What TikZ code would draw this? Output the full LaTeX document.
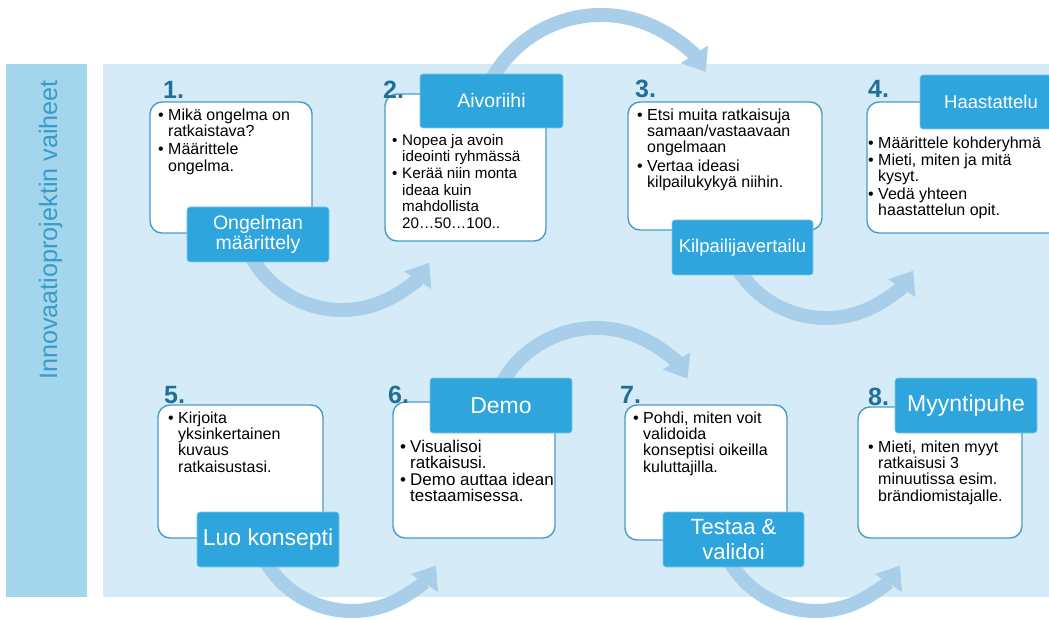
\documentclass[tikz,border=0pt]{standalone}
\usepackage{fontspec}
\setmainfont{Liberation Sans}
\usetikzlibrary{arrows.meta}
\definecolor{panel}{RGB}{213,236,248}
\definecolor{sidebar}{RGB}{163,214,237}
\definecolor{sidetext}{RGB}{58,154,201}
\definecolor{numc}{RGB}{34,110,152}
\definecolor{boxline}{RGB}{74,156,196}
\definecolor{labelc}{RGB}{46,165,220}
\definecolor{arrowc}{RGB}{168,206,234}
\newcommand{\bl}{\llap{\makebox[10pt][l]{\textbullet}}}
\newcommand{\fs}{\rule{0pt}{15pt}}
\begin{document}
\begin{tikzpicture}[x=1pt,y=-1pt,
  infobox/.style={draw=boxline, line width=1.4pt, fill=white, rounded corners=12pt, inner sep=0, outer sep=0},
  labelbox/.style={fill=labelc, draw=labelc!60!white, line width=0.6pt, rounded corners=3pt, inner sep=0, outer sep=0, text=white, align=center},
  numtxt/.style={anchor=base west, inner sep=0, text=numc, font={\fontsize{25}{25}\selectfont\bfseries}},
  bodytxt/.style={anchor=north west, inner sep=0, align=left, font={\fontsize{16}{16.3}\selectfont\lineskiplimit=-20pt}},
  flow/.style={draw=arrowc, line width=14pt, -{Triangle[width=31pt,length=21pt]}},
]
\useasboundingbox (0,0) rectangle (1049,620);
\fill[white] (0,0) rectangle (1049,620);
% backgrounds
\fill[sidebar] (6,64) rectangle (87,597);
\fill[panel] (103,64) rectangle (1049,597);
\node[anchor=base west, rotate=90, inner sep=0, text=sidetext, font={\fontsize{25.2}{25.2}\selectfont}] (side) at (57,380) {Innovaatioprojektin vaiheet};

% flow arrows
\coordinate (a1) at ([shift={(155:104)}]342,206);
\coordinate (a2) at ([shift={(205:125)}]601,140);
\coordinate (a3) at ([shift={(155:104)}]826,214);
\coordinate (a4) at ([shift={(155:100)}]352,511);
\coordinate (a5) at ([shift={(205:108)}]596,436);
\coordinate (a6) at ([shift={(155:100)}]816,511);
\draw[flow] (a1) arc[start angle=155, end angle=33, radius=104];
\draw[flow] (a2) arc[start angle=205, end angle=327, radius=125];
\draw[flow] (a3) arc[start angle=155, end angle=33, radius=104];
\draw[flow] (a4) arc[start angle=155, end angle=33, radius=100];
\draw[flow] (a5) arc[start angle=205, end angle=328, radius=108];
\draw[flow] (a6) arc[start angle=155, end angle=33, radius=100];

% white boxes
\node[infobox, minimum width=162pt, minimum height=131pt] (b1) at (231,167.5) {};
\node[infobox, minimum width=161pt, minimum height=147pt] (b2) at (465.5,167.5) {};
\node[infobox, minimum width=194pt, minimum height=128pt] (b3) at (725,166) {};
\node[infobox, minimum width=213pt, minimum height=131pt] (b4) at (973.5,167.5) {};
\node[infobox, minimum width=165pt, minimum height=133pt] (b5) at (240.5,471.5) {};
\node[infobox, minimum width=162pt, minimum height=136pt] (b6) at (474,470) {};
\node[infobox, minimum width=162pt, minimum height=135pt] (b7) at (706,472.5) {};
\node[infobox, minimum width=164pt, minimum height=131pt] (b8) at (940,472.5) {};

% labels
\node[labelbox, minimum width=142pt, minimum height=55pt, font={\fontsize{19.5}{20}\selectfont}] (l1) at (258,234.5) {Ongelman\\määrittely};
\node[labelbox, minimum width=143pt, minimum height=54pt, font={\fontsize{19.5}{20}\selectfont}] (l2) at (491.5,101) {Aivoriihi};
\node[labelbox, minimum width=141pt, minimum height=55pt, font={\fontsize{18.5}{20}\selectfont}] (l3) at (742.5,247.5) {Kilpailijavertailu};
\node[labelbox, minimum width=142pt, minimum height=54pt, font={\fontsize{18.5}{20}\selectfont}] (l4) at (991,102) {Haastattelu};
\node[labelbox, minimum width=142pt, minimum height=55pt, font={\fontsize{23}{25}\selectfont}] (l5) at (268,539.5) {Luo konsepti};
\node[labelbox, minimum width=142pt, minimum height=55pt, font={\fontsize{23}{25}\selectfont}] (l6) at (501,405.5) {Demo};
\node[labelbox, minimum width=141pt, minimum height=55pt, font={\fontsize{22}{25}\selectfont}] (l7) at (733.5,539.5) {Testaa \&\\validoi};
\node[labelbox, minimum width=142pt, minimum height=55pt, font={\fontsize{23}{25}\selectfont}] (l8) at (966,405.5) {Myyntipuhe};

% numbers
\node[numtxt] (n1) at (163,99) {1.};
\node[numtxt] (n2) at (383,99) {2.};
\node[numtxt] (n3) at (635,98) {3.};
\node[numtxt] (n4) at (868,98) {4.};
\node[numtxt] (n5) at (164,403) {5.};
\node[numtxt] (n6) at (388,403) {6.};
\node[numtxt] (n7) at (620,403) {7.};
\node[numtxt] (n8) at (868,405) {8.};

% body texts
\node[bodytxt] (t1) at (168,105) {\fs\bl Mikä ongelma on\\ratkaistava?\\[2pt]\bl Määrittele\\ongelma.};
\node[bodytxt, font={\fontsize{15.2}{16.4}\selectfont\lineskiplimit=-20pt}] (t2) at (402,130) {\fs\bl Nopea ja avoin\\ideointi ryhmässä\\[1pt]\bl Kerää niin monta\\ideaa kuin\\mahdollista\\20…50…100..};
\node[bodytxt] (t3) at (647,105) {\fs\bl Etsi muita ratkaisuja\\samaan/vastaavaan\\ongelmaan\\[2pt]\bl Vertaa ideasi\\kilpailukykyä niihin.};
\node[bodytxt] (t4) at (878,133) {\fs\bl Määrittele kohderyhmä\\[1pt]\bl Mieti, miten ja mitä\\kysyt.\\[1pt]\bl Vedä yhteen\\haastattelun opit.};
\node[bodytxt] (t5) at (178,408) {\fs\bl Kirjoita\\yksinkertainen\\kuvaus\\ratkaisustasi.};
\node[bodytxt, font={\fontsize{17}{16}\selectfont\lineskiplimit=-20pt}] (t6) at (410,437) {\fs\bl Visualisoi\\ratkaisusi.\\[1.5pt]\bl Demo auttaa idean\\testaamisessa.};
\node[bodytxt] (t7) at (643,408) {\fs\bl Pohdi, miten voit\\validoida\\konseptisi oikeilla\\kuluttajilla.};
\node[bodytxt] (t8) at (878,437) {\fs\bl Mieti, miten myyt\\ratkaisusi 3\\minuutissa esim.\\brändiomistajalle.};
\end{tikzpicture}
\end{document}
